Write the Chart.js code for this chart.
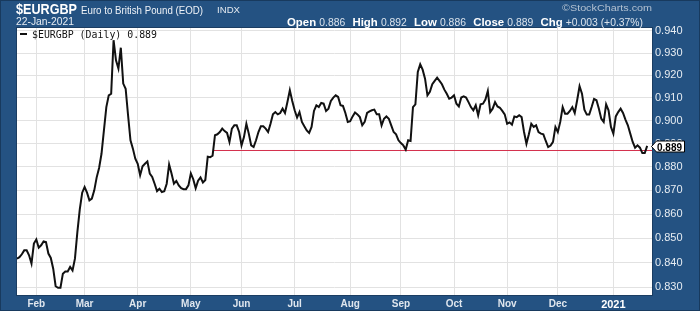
<!DOCTYPE html>
<html>
<head>
<meta charset="utf-8">
<script src="https://cdn.jsdelivr.net/npm/chart.js@4/dist/chart.umd.min.js"></script>
<style>
  html, body { margin: 0; padding: 0; background: #245282; }
  #wrap { width: 700px; height: 311px; position: relative; }
  canvas { display: block; }
</style>
</head>
<body>
<div id="wrap"><canvas id="c" width="700" height="311"></canvas></div>
<script>
// ---------------- DATA ----------------
const symbol = '$EURGBP';
const symbolName = 'Euro to British Pound (EOD)';
const exchange = 'INDX';
const asOf = '22-Jan-2021';
const quoteLabels = ['Open', 'High', 'Low', 'Close', 'Chg'];
const quoteValues = ['0.886', '0.892', '0.886', '0.889', '+0.003 (+0.37%)'];
const legendText = '$EURGBP (Daily) 0.889';

// trading calendar (weekdays) for the daily series
const startDate = '2020-01-22';
const skipDays = ['2021-01-01'];
const monthNames = ['Jan','Feb','Mar','Apr','May','Jun','Jul','Aug','Sep','Oct','Nov','Dec'];

// daily closes, 22-Jan-2020 .. 22-Jan-2021
const closes = [
  0.8416,0.8422,0.8434,0.8450,0.8450,0.8430,0.8396,0.8478,0.8495,0.8461,
  0.8471,0.8487,0.8484,0.8437,0.8419,0.8375,0.8304,0.8298,0.8298,0.8355,
  0.8364,0.8364,0.8382,0.8368,0.8416,0.8525,0.8620,0.8690,0.8714,0.8690,
  0.8658,0.8665,0.8700,0.8755,0.8795,0.8856,0.8957,0.9059,0.9111,0.9118,
  0.9358,0.9267,0.9230,0.9324,0.9163,0.9140,0.9023,0.8914,0.8878,0.8835,
  0.8813,0.8764,0.8802,0.8813,0.8823,0.8771,0.8757,0.8728,0.8697,0.8707,
  0.8693,0.8696,0.8728,0.8810,0.8771,0.8728,0.8740,0.8721,0.8709,0.8705,
  0.8705,0.8721,0.8772,0.8747,0.8709,0.8741,0.8755,0.8733,0.8744,0.8843,
  0.8841,0.8848,0.8936,0.8940,0.8950,0.8965,0.8954,0.8946,0.8907,0.8965,
  0.8979,0.8979,0.8950,0.8892,0.8928,0.8986,0.8943,0.8892,0.8885,0.8914,
  0.8950,0.8975,0.8975,0.8965,0.8950,0.8986,0.9027,0.9037,0.9027,0.9033,
  0.9052,0.9033,0.9081,0.9133,0.9086,0.9045,0.9013,0.9037,0.8994,0.8975,
  0.8957,0.8946,0.8972,0.9042,0.9067,0.9059,0.9077,0.9074,0.9042,0.9052,
  0.9086,0.9101,0.9111,0.9104,0.9067,0.9064,0.9033,0.8994,0.8997,0.9018,
  0.9035,0.9027,0.9015,0.8979,0.8994,0.9033,0.9040,0.9045,0.9048,0.9027,
  0.9027,0.8979,0.9008,0.9018,0.9008,0.8979,0.8950,0.8940,0.8914,0.8902,
  0.8892,0.8874,0.8914,0.8911,0.9059,0.9071,0.9215,0.9249,0.9225,0.9185,
  0.9111,0.9126,0.9160,0.9175,0.9189,0.9175,0.9160,0.9136,0.9118,0.9096,
  0.9101,0.9111,0.9074,0.9062,0.9101,0.9106,0.9101,0.9081,0.9059,0.9045,
  0.9067,0.9023,0.9071,0.9074,0.9092,0.9130,0.9037,0.9052,0.9081,0.9062,
  0.9056,0.9042,0.9027,0.8986,0.8992,0.8982,0.9018,0.9015,0.9023,0.9015,
  0.8950,0.8899,0.8940,0.8986,0.8972,0.8979,0.8950,0.8943,0.8940,0.8911,
  0.8885,0.8891,0.8907,0.8972,0.8950,0.8994,0.9059,0.9030,0.9030,0.9042,
  0.9059,0.9033,0.9089,0.9151,0.9118,0.9048,0.9026,0.9026,0.9059,0.9095,
  0.9089,0.9052,0.9008,0.8994,0.9071,0.9045,0.8972,0.8943,0.9018,0.9037,
  0.9052,0.9033,0.9004,0.8979,0.8943,0.8907,0.8882,0.8892,0.8882,0.8859,
  0.8859,0.8890
];

// horizontal support line (drawn from a trading day to the right edge)
const supportStartIndex = 81.3;
const supportLevel = 0.8870;

// price axis ticks and range (log scale)
const yTicks = [0.830,0.840,0.850,0.860,0.870,0.880,0.890,0.900,0.910,0.920,0.930,0.940];
const yMin = 0.82688;
const yMax = 0.94137;
const xMaxPad = 2;   // extra trading days of room right of the last bar

// ---------------- BUILD ----------------
const dates = [];
(function () {
  const d = new Date(startDate + 'T12:00:00Z');
  while (dates.length < closes.length) {
    const iso = d.toISOString().slice(0, 10);
    const wd = d.getUTCDay();
    if (wd !== 0 && wd !== 6 && !skipDays.includes(iso)) dates.push(new Date(d));
    d.setUTCDate(d.getUTCDate() + 1);
  }
})();
const monthTicks = [];
for (let i = 1; i < dates.length; i++) {
  if (dates[i].getUTCMonth() !== dates[i - 1].getUTCMonth()) {
    const m = dates[i].getUTCMonth();
    monthTicks.push({ index: i, label: m === 0 ? String(dates[i].getUTCFullYear()) : monthNames[m], year: m === 0 });
  }
}
const xMax = closes.length - 1 + xMaxPad;
const lastValue = closes[closes.length - 1];

const BLUE = '#245282';

function fitText(ctx, text, x, y, w, font, color) {
  ctx.save();
  ctx.font = font;
  const m = ctx.measureText(text).width;
  ctx.translate(x, y);
  ctx.scale(w / m, 1);
  ctx.fillStyle = color;
  ctx.textBaseline = 'alphabetic';
  ctx.textAlign = 'left';
  ctx.fillText(text, 0, 0);
  ctx.restore();
}

const framePlugin = {
  id: 'frame',
  beforeDraw(chart) {
    const { ctx, chartArea: a } = chart;
    ctx.save();
    ctx.fillStyle = BLUE;
    ctx.fillRect(0, 0, chart.width, chart.height);
    ctx.fillStyle = '#ffffff';
    ctx.fillRect(a.left, a.top, a.right - a.left, a.bottom - a.top);
    ctx.restore();
  },
  afterDraw(chart) {
    const { ctx, chartArea: a } = chart;
    const y = chart.scales.y;
    ctx.save();
    // plot border
    ctx.strokeStyle = '#1b3d62';
    ctx.lineWidth = 1;
    ctx.strokeRect(a.left - 0.5, a.top - 0.5, a.right - a.left + 1, a.bottom - a.top + 1);
    // outer frame
    ctx.strokeStyle = '#183a5e';
    ctx.strokeRect(0.5, 0.5, chart.width - 1, chart.height - 1);

    // header
    fitText(ctx, symbol, 16, 14, 61, 'bold 14px "Liberation Sans", Arial, sans-serif', '#ffffff');
    fitText(ctx, symbolName, 81, 13.5, 122, '11px "Liberation Sans", Arial, sans-serif', '#eef2f7');
    fitText(ctx, exchange, 217, 13, 23, '9px "Liberation Sans", Arial, sans-serif', '#e3e9f0');
    fitText(ctx, asOf, 16, 24.5, 58, '10px "Liberation Sans", Arial, sans-serif', '#e8edf3');
    fitText(ctx, '\u00A9StockCharts.com', 562, 10.5, 90, '9.5px "Liberation Sans", Arial, sans-serif', '#b3c1d1');

    // quote line
    const segs = [];
    quoteLabels.forEach((l, i) => {
      segs.push({ t: l, f: 'bold 11px "Liberation Sans", Arial, sans-serif', c: '#ffffff', gap: 3 });
      segs.push({ t: quoteValues[i], f: '10px "Liberation Sans", Arial, sans-serif', c: '#dbe3ec', gap: 7 });
    });
    let total = 0;
    segs.forEach((s, i) => { ctx.font = s.f; s.w = ctx.measureText(s.t).width; total += s.w + (i < segs.length - 1 ? s.gap : 0); });
    const k = 356 / total;
    ctx.save();
    ctx.translate(287, 25.5);
    ctx.scale(k, 1);
    let cx = 0;
    segs.forEach(s => { ctx.font = s.f; ctx.fillStyle = s.c; ctx.fillText(s.t, cx, 0); cx += s.w + s.gap; });
    ctx.restore();

    // legend inside the plot
    ctx.strokeStyle = '#111111';
    ctx.lineWidth = 2;
    ctx.beginPath(); ctx.moveTo(20, 34); ctx.lineTo(27, 34); ctx.stroke();
    fitText(ctx, legendText, 32, 37.5, 125, '10px "DejaVu Sans Mono", monospace', '#111111');

    // last value tag
    const py = Math.round(y.getPixelForValue(lastValue)) + 0.5;
    ctx.beginPath();
    ctx.moveTo(a.right - 0.5, py);
    ctx.lineTo(a.right + 4.5, py - 5.5);
    ctx.lineTo(684.5, py - 5.5);
    ctx.lineTo(684.5, py + 5.5);
    ctx.lineTo(a.right + 4.5, py + 5.5);
    ctx.closePath();
    ctx.fillStyle = '#ffffff';
    ctx.fill();
    ctx.strokeStyle = '#000000';
    ctx.lineWidth = 1;
    ctx.stroke();
    fitText(ctx, lastValue.toFixed(3), 657, py + 4, 25, 'bold 10px "Liberation Sans", Arial, sans-serif', '#000000');
    ctx.restore();
  }
};

new Chart(document.getElementById('c'), {
  type: 'line',
  data: {
    datasets: [
      {
        label: symbol,
        data: closes.map((v, i) => ({ x: i, y: v })),
        borderColor: '#111111',
        borderWidth: 2,
        pointRadius: 0,
        tension: 0,
        order: 1
      },
      {
        label: 'support',
        data: [{ x: supportStartIndex, y: supportLevel }, { x: xMax, y: supportLevel }],
        borderColor: '#d4304c',
        borderWidth: 1,
        pointRadius: 0,
        order: 2
      }
    ]
  },
  options: {
    responsive: false,
    animation: false,
    devicePixelRatio: 1,
    layout: { padding: { left: 17, top: 28, right: 0, bottom: 0 } },
    plugins: { legend: { display: false }, tooltip: { enabled: false }, title: { display: false } },
    scales: {
      x: {
        type: 'linear',
        min: 0,
        max: xMax,
        grid: { color: '#e2e2e2', lineWidth: 1, drawTicks: false },
        border: { display: false },
        afterBuildTicks: s => { s.ticks = monthTicks.map(t => ({ value: t.index })); },
        afterFit: s => { s.height = 16; },
        ticks: {
          autoSkip: false,
          maxRotation: 0,
          padding: 3,
          callback: v => { const t = monthTicks.find(m => m.index === v); return t ? t.label : ''; },
          color: c => { const t = monthTicks[c.index]; return t && t.year ? '#ffffff' : '#dfe6ee'; },
          font: c => { const t = monthTicks[c.index]; return { family: '"Liberation Sans", Arial, sans-serif', size: t && t.year ? 11 : 10, weight: 'bold' }; }
        }
      },
      y: {
        type: 'logarithmic',
        position: 'right',
        min: yMin,
        max: yMax,
        grid: { color: '#e2e2e2', lineWidth: 1, drawTicks: false },
        border: { display: false },
        afterBuildTicks: s => { s.ticks = yTicks.map(v => ({ value: v })); },
        afterFit: s => { s.width = 48; },
        ticks: {
          padding: 3,
          callback: v => Number(v).toFixed(3),
          color: '#e6ecf2',
          font: { family: '"Liberation Sans", Arial, sans-serif', size: 11 }
        }
      }
    }
  },
  plugins: [framePlugin]
});
</script>
</body>
</html>
